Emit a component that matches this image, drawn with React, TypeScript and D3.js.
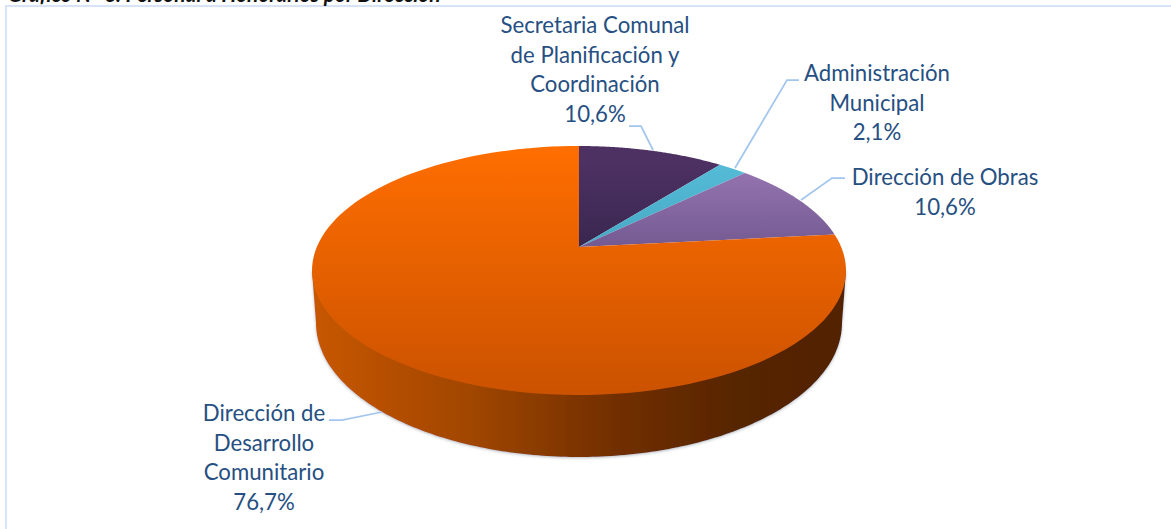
import React from 'react';
import * as d3 from 'd3';

// Values
const categories = ['Secretaria Comunal de Planificación y Coordinación', 'Administración Municipal', 'Dirección de Obras', 'Dirección de Desarrollo Comunitario'];
const shares = [10.6, 2.1, 10.6, 76.7];
const labelLines = [
  ['Secretaria Comunal', 'de Planificación y', 'Coordinación', '10,6%'],
  ['Administración', 'Municipal', '2,1%'],
  ['Dirección de Obras', '10,6%'],
  ['Dirección de', 'Desarrollo', 'Comunitario', '76,7%'],
];
const topColors = [['#4d3163', '#392750'], ['#55bcd8', '#46a8c4'], ['#9877b3', '#745a92'], ['#ff6e00', '#cb5200']];
const labelCenters = [595, 877, 945, 264];
const labelTops = [26, 74, 178, 414];
const leaders = [
  [[629, 126], [641, 126], [653, 150]],
  [[799, 80], [787, 80], [735, 168]],
  [[845, 178], [832, 178], [801, 200]],
  [[329, 420], [342, 420], [382, 412]],
];

const width = 1171;
const height = 529;
const title = 'Gráfico N° 6: Personal a Honorarios por Dirección';

// pie top face: a tilted disc, so the apex sits above the middle of the ellipse
const cx = 579;
const apexY = 247;
const topY = 146;
const bottomY = 395;
const rx = 267;
const wall = { cy: 323, rx: 263, ry: 134 };

const tilt = (apexY - topY - (bottomY - apexY)) / (bottomY - topY);
const slope = (topY * (1 - tilt) * -1 + apexY);
const radius = rx * Math.sqrt(1 - tilt * tilt);

// unit circle -> screen
const project = (angle: number): [number, number] => {
  const u = Math.sin(angle);
  const v = -Math.cos(angle);
  const w = 1 + tilt * v;
  return [cx + (radius * u) / w, (slope * v + apexY) / w];
};

const line = d3.line();

const slices = d3.pie<number>().sort(null)(shares);

const slicePath = (a0: number, a1: number) => {
  const pts = d3.range(0, 121).map((i) => project(a0 + ((a1 - a0) * i) / 120));
  return line([[cx, apexY], ...pts]) + 'Z';
};

const topCy = (topY + bottomY) / 2;
const ell = (e: { cy: number; rx: number; ry: number }, t: number): [number, number] => [
  cx + e.rx * Math.cos(t),
  e.cy + e.ry * Math.sin(t),
];
const wallPath = () => {
  const lower = d3.range(0, 181).map((i) => ell(wall, (i * Math.PI) / 180));
  return line([[cx + rx, topCy], ...lower, [cx - rx, topCy]]) + 'Z';
};

export default function App() {
  return (
    <svg
      width={width}
      height={height}
      style={{ position: 'absolute', left: 0, top: 0, fontFamily: 'Lato' }}
    >
      <defs>
        {slices.map((s, i) => (
          <linearGradient key={i} id={`top${i}`} gradientUnits="userSpaceOnUse" x1="0" x2="0" y1={i === 3 ? topY : topY + 15} y2={i === 3 ? bottomY : apexY}>
            <stop offset="0" stopColor={topColors[i][0]} />
            <stop offset="1" stopColor={topColors[i][1]} />
          </linearGradient>
        ))}
        <linearGradient id="wall" gradientUnits="userSpaceOnUse" x1={cx - rx} x2={cx + rx} y1="0" y2="0">
          <stop offset="0" stopColor="#c85700" />
          <stop offset="0.3" stopColor="#a04600" />
          <stop offset="0.55" stopColor="#743000" />
          <stop offset="0.8" stopColor="#562500" />
          <stop offset="1" stopColor="#522300" />
        </linearGradient>
        <filter id="shadow" x="-5%" y="-5%" width="110%" height="110%">
          <feDropShadow dx="0" dy="1" stdDeviation="1.5" floodColor="#8a8f98" floodOpacity="0.6" />
        </filter>
      </defs>

      <rect x="6" y="6" width={width + 10} height={height + 10} fill="#fff" stroke="#d6e4f6" strokeWidth="2" />
      <text x="8" y="1.5" fontSize="20.9" fontWeight="bold" fontStyle="italic" fill="#111">{title}</text>

      <path d={wallPath()} fill="url(#wall)" filter="url(#shadow)" />
      {slices.map((s, i) => (
        <path key={categories[i]} d={slicePath(s.startAngle, s.endAngle)} fill={`url(#top${i})`} />
      ))}

      {leaders.map((pts, i) => (
        <path key={i} d={line(pts as [number, number][]) as string} fill="none" stroke="#a3c6ee" strokeWidth="1.75" />
      ))}

      {labelLines.map((lines, i) =>
        lines.map((t, j) => (
          <text key={t} x={labelCenters[i]} y={labelTops[i] + j * 29.5 + 7} textAnchor="middle" fontSize="22.2" fill="#264f82">
            {t}
          </text>
        )),
      )}
    </svg>
  );
}
